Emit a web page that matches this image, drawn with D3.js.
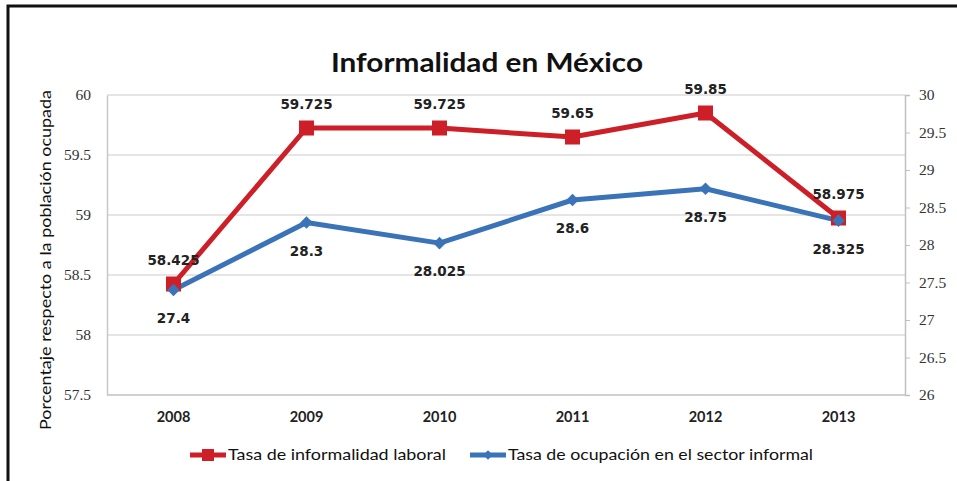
<!DOCTYPE html>
<html>
<head>
<meta charset="utf-8">
<script src="https://cdn.jsdelivr.net/npm/d3@7"></script>
<style>
  body { margin: 0; background: #fff; }
  svg { display: block; }
</style>
</head>
<body>
<svg width="957" height="481"></svg>
<script>
const years = ['2008', '2009', '2010', '2011', '2012', '2013']
const informalidad = [58.425, 59.725, 59.725, 59.65, 59.85, 58.975]
const ocupacion = [27.4, 28.3, 28.025, 28.6, 28.75, 28.325]
const leftTicks = [57.5, 58, 58.5, 59, 59.5, 60]
const rightTicks = [26, 26.5, 27, 27.5, 28, 28.5, 29, 29.5, 30]

const RED = '#cd1f27'
const BLUE = '#3a73b8'

const svg = d3.select('svg')
const plot = { left: 107, right: 905, top: 95, bottom: 395 }

// frame
svg.append('rect')
    .attr('x', 8).attr('y', 6)
    .attr('width', 980).attr('height', 500)
    .style('fill', 'none')
    .style('stroke', '#111')
    .style('stroke-width', 3)

const x = d3.scaleBand().domain(years).range([plot.left, plot.right])
const yL = d3.scaleLinear().domain([57.5, 60]).range([plot.bottom, plot.top])
const yR = d3.scaleLinear().domain([26, 30]).range([plot.bottom, plot.top])
const cx = d => x(d) + x.bandwidth() / 2

// grid
svg.append('g')
    .selectAll('line')
    .data(leftTicks)
    .join('line')
    .attr('x1', plot.left).attr('x2', plot.right)
    .attr('y1', d => yL(d)).attr('y2', d => yL(d))
    .style('stroke', '#dcdcdc')
    .style('stroke-width', 1.5)

// left axis
const gL = svg.append('g')
    .attr('transform', `translate(${plot.left},0)`)
    .call(d3.axisLeft(yL).tickValues(leftTicks).tickSize(0).tickPadding(16).tickFormat(d3.format('')))
gL.select('.domain').style('stroke', '#c8c8c8').style('stroke-width', 1.5)

// right axis
const gR = svg.append('g')
    .attr('transform', `translate(${plot.right},0)`)
    .call(d3.axisRight(yR).tickValues(rightTicks).tickSize(5).tickPadding(9).tickFormat(d3.format('')))
gR.select('.domain').style('stroke', '#c0c0c0').style('stroke-width', 1.5)
gR.selectAll('.tick line').style('stroke', '#c0c0c0')

svg.selectAll('.tick text')
    .style('font-family', '"Liberation Serif", serif')
    .style('font-size', '15.5px')
    .style('fill', '#333')

// bottom axis
svg.append('line')
    .attr('x1', plot.left).attr('x2', plot.right)
    .attr('y1', plot.bottom).attr('y2', plot.bottom)
    .style('stroke', '#c8c8c8').style('stroke-width', 1.5)

const gB = svg.append('g')
    .attr('transform', `translate(0,${plot.bottom})`)
    .call(d3.axisBottom(x).tickSize(0).tickPadding(17))
gB.select('.domain').remove()
gB.selectAll('text')
    .style('font-family', 'Lato, sans-serif')
    .style('font-weight', 'bold')
    .style('font-size', '14.5px')
    .style('fill', '#222')

// lines
const lineL = d3.line().x((d, i) => cx(years[i])).y(d => yL(d))
const lineR = d3.line().x((d, i) => cx(years[i])).y(d => yR(d))

svg.append('path')
    .attr('d', lineR(ocupacion))
    .style('fill', 'none').style('stroke', BLUE).style('stroke-width', 5)
    .style('stroke-linejoin', 'round')
svg.append('path')
    .attr('d', lineL(informalidad))
    .style('fill', 'none').style('stroke', RED).style('stroke-width', 5)
    .style('stroke-linejoin', 'round')

// markers
svg.append('g').selectAll('rect')
    .data(informalidad)
    .join('rect')
    .attr('x', (d, i) => cx(years[i]) - 7.5)
    .attr('y', d => yL(d) - 7.5)
    .attr('width', 15).attr('height', 15)
    .style('fill', RED)

svg.append('g').selectAll('path')
    .data(ocupacion)
    .join('path')
    .attr('d', d3.symbol(d3.symbolDiamond2, 100))
    .attr('transform', (d, i) => `translate(${cx(years[i])},${yR(d)})`)
    .style('fill', BLUE)

// data labels
const labelStyle = sel => sel
    .attr('text-anchor', 'middle')
    .style('font-family', '"DejaVu Sans", sans-serif')
    .style('font-weight', 'bold')
    .style('font-size', '13.5px')
    .style('fill', '#222')

svg.append('g').selectAll('text')
    .data(informalidad)
    .join('text')
    .attr('x', (d, i) => cx(years[i]))
    .attr('y', d => yL(d) - 19)
    .text(d => d)
    .call(labelStyle)

svg.append('g').selectAll('text')
    .data(ocupacion)
    .join('text')
    .attr('x', (d, i) => cx(years[i]))
    .attr('y', d => yR(d) + 33)
    .text(d => d)
    .call(labelStyle)

// title
svg.append('text')
    .attr('x', 487).attr('y', 72)
    .attr('text-anchor', 'middle')
    .attr('textLength', 312)
    .attr('lengthAdjust', 'spacingAndGlyphs')
    .style('font-family', 'Lato, sans-serif')
    .style('font-weight', 'bold')
    .style('font-size', '27px')
    .style('fill', '#111')
    .text('Informalidad en México')

// y title
svg.append('text')
    .attr('transform', 'translate(51,260) rotate(-90)')
    .attr('text-anchor', 'middle')
    .attr('textLength', 340)
    .attr('lengthAdjust', 'spacingAndGlyphs')
    .style('font-family', 'Lato, sans-serif')
    .style('font-size', '14.5px')
    .style('fill', '#111')
    .text('Porcentaje respecto a la población ocupada')

// legend
const legend = [
    { name: 'Tasa de informalidad laboral', color: RED, x: 190, len: 218, shape: 'square' },
    { name: 'Tasa de ocupación en el sector informal', color: BLUE, x: 470, len: 305, shape: 'diamond' }
]
const lg = svg.append('g').selectAll('g')
    .data(legend)
    .join('g')
    .attr('transform', d => `translate(${d.x},455)`)
lg.append('line')
    .attr('x1', 0).attr('x2', 36)
    .style('stroke', d => d.color).style('stroke-width', 5)
lg.filter(d => d.shape === 'square').append('rect')
    .attr('x', 12).attr('y', -6).attr('width', 12).attr('height', 12)
    .style('fill', d => d.color)
lg.filter(d => d.shape === 'diamond').append('path')
    .attr('d', d3.symbol(d3.symbolDiamond2, 60))
    .attr('transform', 'translate(18,0)')
    .style('fill', d => d.color)
lg.append('text')
    .attr('x', 38).attr('y', 5)
    .attr('textLength', d => d.len)
    .attr('lengthAdjust', 'spacingAndGlyphs')
    .style('font-family', 'Lato, sans-serif')
    .style('font-size', '15px')
    .style('fill', '#111')
    .text(d => d.name)
</script>
</body>
</html>
